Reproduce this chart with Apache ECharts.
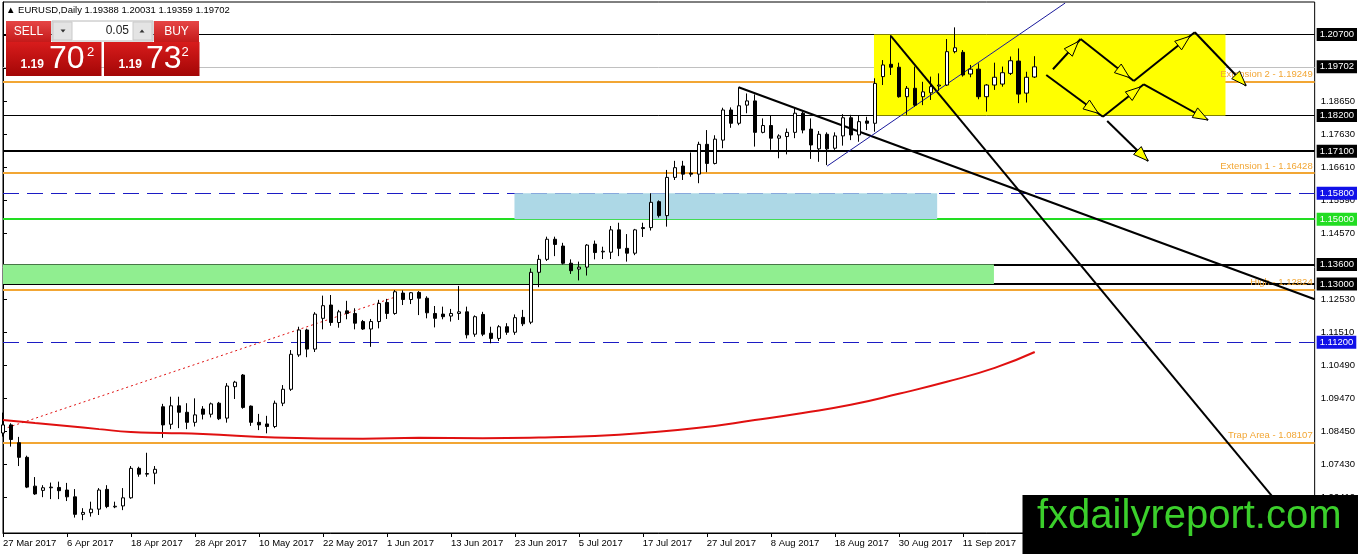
<!DOCTYPE html>
<html><head><meta charset="utf-8">
<script src="https://cdn.jsdelivr.net/npm/echarts@6/dist/echarts.min.js"></script>
<style>html,body{margin:0;padding:0;background:#fff}#c{width:1358px;height:554px}</style>
</head><body><div id="c"></div>
<script>
// ---------- data ----------
const tickLabels = ['27 Mar 2017','6 Apr 2017','18 Apr 2017','28 Apr 2017','10 May 2017','22 May 2017','1 Jun 2017','13 Jun 2017','23 Jun 2017','5 Jul 2017','17 Jul 2017','27 Jul 2017','8 Aug 2017','18 Aug 2017','30 Aug 2017','11 Sep 2017','21 Sep 2017'];
const opens  = [1.0840,1.0865,1.0810,1.0765,1.0676,1.0663,1.0671,1.0672,1.0664,1.0643,1.0589,1.0594,1.0605,1.0666,1.0612,1.0615,1.0640,1.0731,1.0713,1.0716,
1.0921,1.0867,1.0924,1.0904,1.0873,1.0914,1.0898,1.0932,1.0886,1.0983,1.1019,1.0923,1.0873,1.0868,1.0860,1.0932,1.0975,1.1081,1.1158,1.1099,
1.1194,1.1235,1.1181,1.1217,1.1209,1.1184,1.1161,1.1184,1.1243,1.1209,1.1272,1.1252,1.1274,1.1256,1.1209,1.1207,1.1201,1.1209,1.1214,1.1145,
1.1206,1.1148,1.1132,1.1168,1.1151,1.1197,1.1182,1.1336,1.1376,1.1438,1.1417,1.1364,1.1346,1.1352,1.1423,1.1399,1.1398,1.1467,1.1410,1.1395,
1.1474,1.1474,1.1554,1.1511,1.1629,1.1664,1.1642,1.1639,1.1731,1.1672,1.1744,1.1837,1.1796,1.1852,1.1865,1.1768,1.1789,1.1750,1.1755,1.1768,
1.1827,1.1778,1.1717,1.1762,1.1719,1.1757,1.1813,1.1760,1.1803,1.1796,1.1940,1.1978,1.1969,1.1878,1.1904,1.1878,1.1890,1.1911,1.1914,1.2017,
1.2015,1.1948,1.1963,1.1878,1.1914,1.1917,1.1950,1.1988,1.1889,1.19388];
const highs  = [1.0903,1.0870,1.0828,1.0770,1.0704,1.0679,1.0687,1.0690,1.0686,1.0667,1.0608,1.0628,1.0670,1.0679,1.0628,1.0670,1.0738,1.0736,1.0779,1.0738,
1.0930,1.0952,1.0952,1.0932,1.0947,1.0923,1.0934,1.0936,1.0994,1.1001,1.1022,1.0925,1.0899,1.0893,1.0940,1.0988,1.1096,1.1168,1.1162,1.1213,
1.1264,1.1266,1.1220,1.1248,1.1225,1.1189,1.1192,1.1251,1.1254,1.1281,1.1280,1.1275,1.1278,1.1262,1.1232,1.1230,1.1223,1.1294,1.1230,1.1203,
1.1214,1.1168,1.1173,1.1179,1.1206,1.1220,1.1348,1.1390,1.1446,1.1446,1.1427,1.1376,1.1369,1.1423,1.1434,1.1415,1.1479,1.1489,1.1454,1.1470,
1.1489,1.1580,1.1558,1.1652,1.1680,1.1680,1.1706,1.1739,1.1775,1.1759,1.1844,1.1845,1.1907,1.1888,1.1885,1.1811,1.1819,1.1762,1.1780,1.1842,
1.1832,1.1811,1.1772,1.1768,1.1768,1.1824,1.1822,1.1819,1.1816,1.1935,1.1991,1.2068,1.1983,1.1911,1.1971,1.1924,1.1940,1.1950,1.2056,1.2092,
1.2022,1.1976,1.1981,1.1917,1.1983,1.1971,1.2002,1.2027,1.1955,1.20031];
const lows   = [1.0829,1.0798,1.0738,1.0670,1.0649,1.0642,1.0636,1.0636,1.0630,1.0579,1.0571,1.0582,1.0587,1.0608,1.0608,1.0602,1.0637,1.0705,1.0705,1.0682,
1.0825,1.0852,1.0855,1.0852,1.0860,1.0882,1.0888,1.0880,1.0872,1.0945,1.0915,1.0862,1.0849,1.0839,1.0855,1.0923,1.0970,1.1075,1.1074,1.1090,
1.1160,1.1171,1.1165,1.1191,1.1160,1.1158,1.1106,1.1163,1.1192,1.1205,1.1235,1.1238,1.1204,1.1194,1.1166,1.1191,1.1184,1.1189,1.1132,1.1137,
1.1139,1.1117,1.1124,1.1143,1.1143,1.1170,1.1176,1.1290,1.1371,1.1386,1.1360,1.1331,1.1311,1.1326,1.1376,1.1377,1.1377,1.1386,1.1369,1.1389,
1.1445,1.1465,1.1505,1.1477,1.1621,1.1621,1.1631,1.1611,1.1645,1.1669,1.1719,1.1782,1.1790,1.1827,1.1724,1.1765,1.1714,1.1688,1.1700,1.1750,
1.1765,1.1686,1.1677,1.1667,1.1714,1.1727,1.1744,1.1739,1.1775,1.1770,1.1914,1.1945,1.1875,1.1822,1.1847,1.1852,1.1868,1.1896,1.1911,1.2012,
1.1940,1.1938,1.1870,1.1832,1.1899,1.1909,1.1945,1.1858,1.1860,1.19359];
const closes = [1.0865,1.0820,1.0765,1.0673,1.0652,1.0671,1.0673,1.0662,1.0643,1.0589,1.0595,1.0605,1.0664,1.0613,1.0614,1.0640,1.0731,1.0713,1.0715,1.0728,
1.0865,1.0924,1.0904,1.0873,1.0896,1.0898,1.0930,1.0884,1.0985,1.0997,1.0919,1.0873,1.0865,1.0860,1.0932,1.0975,1.1083,1.1158,1.1099,1.1207,
1.1233,1.1181,1.1214,1.1209,1.1179,1.1161,1.1184,1.1240,1.1209,1.1276,1.1252,1.1273,1.1256,1.1211,1.1194,1.1199,1.1209,1.1214,1.1143,1.1199,
1.1145,1.1132,1.1168,1.1151,1.1196,1.1177,1.1336,1.1376,1.1438,1.1422,1.1364,1.1341,1.1352,1.1420,1.1397,1.1401,1.1467,1.1410,1.1395,1.1467,
1.1471,1.1552,1.1511,1.1629,1.1659,1.1639,1.1639,1.1731,1.1672,1.1747,1.1837,1.1796,1.1850,1.1865,1.1768,1.1789,1.1750,1.1757,1.1768,1.1827,
1.1775,1.1729,1.1762,1.1717,1.1757,1.1813,1.1760,1.1801,1.1796,1.1919,1.1976,1.1969,1.1878,1.1904,1.1852,1.1893,1.1909,1.1914,1.2017,1.2029,
1.1945,1.1963,1.1878,1.1914,1.1938,1.1952,1.1989,1.1886,1.1938,1.19702];
const maIndex  = [0,4,8,12,16,20,25,34,45,52,60,67,74,80,87,94,100,106,112,118,124,129];
const maValues = [1.0880,1.0871,1.0862,1.0852,1.0843,1.0840,1.0837,1.0826,1.0822,1.0825,1.0824,1.0826,1.0831,1.0840,1.0856,1.0880,1.0902,1.0927,1.0961,1.0998,1.1041,1.1090];
const yTickValues = [1.06410,1.07430,1.08450,1.09470,1.10490,1.11510,1.12530,1.13550,1.14570,1.15590,1.16610,1.17630,1.18650,1.19670,1.20690];
const levelPrices = [1.20700,1.19702,1.18200,1.17100,1.15800,1.15000,1.13600,1.13000,1.11200];
const fiboNames  = ['Extension 2','Extension 1','High','Trap Area'];
const fiboPrices = [1.19249,1.16428,1.12824,1.08107];
const zones = [[108.9,1.20700,152.85,1.18200],[63.95,1.15800,116.8,1.15000],[0,1.13600,123.9,1.13000]];
const trendLines = [
  [[91.97,1.1907],[164,1.1253]],
  [[111.0,1.2066],[162.5,1.0531]],
  [[103.05,1.1664],[132.8,1.2167]],
  [[0,1.0852],[48.96,1.1259]]
];
const arrowPaths = [
  [[131.28,1.19626],[134.74,1.20561],[141.39,1.19265],[149.01,1.20768],[155.42,1.19120]],
  [[130.44,1.19450],[137.52,1.18163],[142.64,1.19163],[150.67,1.18061]],
  [[138.06,1.18030],[143.18,1.16796]]
];
const headerText = ['EURUSD,Daily','1.19388','1.20031','1.19359','1.19702'];
const lotSize = '0.05';
const sellQuote = ['1.19','70','2'];
const buyQuote  = ['1.19','73','2'];
const watermark = 'fxdailyreport.com';

// ---------- styles ----------
const FONT = 'Liberation Sans';
const ORANGE = '#f2a634';
const levelStyle = {
  '1.20700':{c:'#000',w:1,t:'solid',box:'#000'},
  '1.19702':{c:'#c0c0c0',w:1,t:'solid',box:'#000'},
  '1.18200':{c:'#000',w:1,t:'solid',box:'#000'},
  '1.17100':{c:'#000',w:2,t:'solid',box:'#000'},
  '1.15800':{c:'#1c1cc4',w:1,t:[16,8],box:'#1010e8'},
  '1.15000':{c:'#22dd22',w:2,t:'solid',box:'#22dd22'},
  '1.13600':{c:'#000',w:2,t:'solid',box:'#000'},
  '1.13000':{c:'#000',w:2,t:'solid',box:'#000'},
  '1.11200':{c:'#1c1cc4',w:1,t:[16,8],box:'#1010e8'}
};
const zoneFill = ['#ffff00','#add8e6','#90ee90'];
const trendStyle = [
  {color:'#000',width:2,type:'solid'},
  {color:'#000',width:2,type:'solid'},
  {color:'#1a1a9c',width:1,type:'solid'},
  {color:'#e01010',width:1,type:[2,3]}
];

const N = 165;
const cats = [];
for (let i = 0; i < N; i++) cats.push(i % 8 === 0 ? (tickLabels[i/8] || '') : '');
const candles = opens.map((o,i)=>[o, closes[i], lows[i], highs[i]]);
const maData = maIndex.map((x,i)=>[x, maValues[i]]);

const markLines = levelPrices.map(p=>{
  const s = levelStyle[p.toFixed(5)];
  return {yAxis:p, lineStyle:{color:s.c,width:s.w,type:s.t},
    label:{show:true,position:'end',formatter:p.toFixed(5),backgroundColor:s.box,color:'#fff',
      padding:[2,3,1,3],distance:2,fontSize:9.5,fontFamily:FONT}};
}).concat(fiboPrices.map((p,i)=>({yAxis:p, lineStyle:{color:ORANGE,width:2,type:'solid'},
    label:{show:true,position:'insideEndTop',formatter:fiboNames[i]+' - '+p.toFixed(5),color:ORANGE,
      distance:2,fontSize:9.5,fontFamily:FONT}})));

const arrowSegs = [];
arrowPaths.forEach(path=>{
  for (let k=0;k<path.length-1;k++){
    arrowSegs.push([path[k][0],path[k][1],path[k+1][0],path[k+1][1], k===path.length-2 ? 1 : 0.92]);
  }
});

const trendSeries = trendLines.map((seg,i)=>({
  type:'line', xAxisIndex:1, data:seg, symbol:'none', z:2, clip:true, silent:true,
  lineStyle:trendStyle[i]
}));

function grad(top,bottom){return {type:'linear',x:0,y:0,x2:0,y2:1,colorStops:[{offset:0,color:top},{offset:1,color:bottom}]};}

const graphics = [
  {type:'text', z:100, style:{x:6,y:10.5,text:'\u25B2 '+headerText.join(' '),fill:'#000',font:'9.5px '+FONT,verticalAlign:'middle'}},
  {type:'rect', z:100, shape:{x:6,y:21,width:45,height:21}, style:{fill:grad('#e64646','#c41a1a')}},
  {type:'text', z:101, style:{x:28.5,y:31.5,text:'SELL',fill:'#fff',font:'12px '+FONT,align:'center',verticalAlign:'middle'}},
  {type:'rect', z:100, shape:{x:52,y:21,width:101,height:20}, style:{fill:'#fff',stroke:'#b8b8b8',lineWidth:1}},
  {type:'rect', z:101, shape:{x:53,y:22,width:19,height:18}, style:{fill:'#e4e4e4',stroke:'#cacaca',lineWidth:1}},
  {type:'polygon', z:102, shape:{points:[[60.5,29.5],[65.5,29.5],[63,32.5]]}, style:{fill:'#333'}},
  {type:'rect', z:101, shape:{x:133,y:22,width:19,height:18}, style:{fill:'#e4e4e4',stroke:'#cacaca',lineWidth:1}},
  {type:'polygon', z:102, shape:{points:[[139.5,32.5],[144.5,32.5],[142,29.5]]}, style:{fill:'#333'}},
  {type:'text', z:101, style:{x:129,y:31,text:lotSize,fill:'#222',font:'12px '+FONT,align:'right',verticalAlign:'middle'}},
  {type:'rect', z:100, shape:{x:154,y:21,width:45,height:21}, style:{fill:grad('#e64646','#c41a1a')}},
  {type:'text', z:101, style:{x:176.5,y:31.5,text:'BUY',fill:'#fff',font:'12px '+FONT,align:'center',verticalAlign:'middle'}},
  {type:'rect', z:100, shape:{x:6,y:42,width:95.5,height:34}, style:{fill:grad('#d81c1c','#a30606')}},
  {type:'rect', z:100, shape:{x:104,y:42,width:95.5,height:34}, style:{fill:grad('#d81c1c','#a30606')}},
  {type:'text', z:101, style:{x:20.5,y:64.5,text:sellQuote[0],fill:'#fff',font:'bold 12px '+FONT,verticalAlign:'middle'}},
  {type:'text', z:101, style:{x:49,y:59,text:sellQuote[1],fill:'#fff',font:'32px '+FONT,verticalAlign:'middle'}},
  {type:'text', z:101, style:{x:87,y:52,text:sellQuote[2],fill:'#fff',font:'13px '+FONT,verticalAlign:'middle'}},
  {type:'text', z:101, style:{x:118.5,y:64.5,text:buyQuote[0],fill:'#fff',font:'bold 12px '+FONT,verticalAlign:'middle'}},
  {type:'text', z:101, style:{x:146,y:59,text:buyQuote[1],fill:'#fff',font:'32px '+FONT,verticalAlign:'middle'}},
  {type:'text', z:101, style:{x:181.5,y:52,text:buyQuote[2],fill:'#fff',font:'13px '+FONT,verticalAlign:'middle'}},
  {type:'rect', z:100, shape:{x:1022.5,y:495,width:336,height:59}, style:{fill:'#000'}},
  {type:'text', z:101, style:{x:1037,y:517,text:watermark,fill:'#3bcf2b',font:'40px '+FONT,verticalAlign:'middle'}}
];

const chart = echarts.init(document.getElementById('c'));
chart.setOption({
  animation:false,
  backgroundColor:'#fff',
  textStyle:{fontFamily:FONT},
  grid:{left:3,right:42,top:2,bottom:21,show:true,borderColor:'#000',borderWidth:1,backgroundColor:'#fff'},
  xAxis:[
    {type:'category',data:cats,boundaryGap:false,
     axisLine:{show:true,lineStyle:{color:'#000',width:1}},
     axisTick:{show:true,interval:7,length:4,lineStyle:{color:'#000'}},
     axisLabel:{interval:7,align:'left',margin:5,fontSize:9.5,color:'#000',fontFamily:FONT},
     splitLine:{show:false}},
    {type:'value',min:0,max:N-1,show:false}
  ],
  yAxis:{type:'value',position:'right',min:1.05314,max:1.21703,
    axisLine:{show:true,lineStyle:{color:'#000'}},
    axisTick:{show:true,customValues:yTickValues,length:4,lineStyle:{color:'#000'}},
    axisLabel:{customValues:yTickValues,formatter:v=>v.toFixed(5),fontSize:9.5,color:'#000',margin:6,fontFamily:FONT},
    splitLine:{show:false}},
  graphic:graphics,
  series:[
    {type:'custom', xAxisIndex:1, z:1, silent:true, data:zones, encode:{x:[0,2],y:[1,3]},
     renderItem:(params,api)=>{
       const a=api.coord([api.value(0),api.value(1)]), b=api.coord([api.value(2),api.value(3)]);
       return {type:'rect',shape:{x:a[0],y:a[1],width:b[0]-a[0],height:b[1]-a[1]},style:{fill:zoneFill[params.dataIndex]}};
     },
     markLine:{silent:true,symbol:['none','none'],precision:5,z:1,animation:false,data:markLines}
    },
    ...trendSeries,
    {type:'candlestick', xAxisIndex:0, z:3, data:candles, barWidth:4, silent:true,
     itemStyle:{color:'#fff',color0:'#000',borderColor:'#000',borderColor0:'#000',borderWidth:1}},
    {type:'line', xAxisIndex:1, z:4, data:maData, symbol:'none', smooth:true, silent:true,
     lineStyle:{color:'#e01010',width:2}},
    {type:'custom', xAxisIndex:1, z:5, silent:true, data:arrowSegs, encode:{x:[0,2],y:[1,3]},
     renderItem:(params,api)=>{
       const a=api.coord([api.value(0),api.value(1)]), b=api.coord([api.value(2),api.value(3)]), t=api.value(4);
       const dx=b[0]-a[0], dy=b[1]-a[1], L=Math.hypot(dx,dy), ux=dx/L, uy=dy/L;
       const tip=[a[0]+dx*t,a[1]+dy*t], hl=15, hw=5.5;
       const base=[tip[0]-ux*hl,tip[1]-uy*hl];
       const pts=[tip,[base[0]-uy*hw,base[1]+ux*hw],[base[0]+uy*hw,base[1]-ux*hw]];
       return {type:'group',children:[
         {type:'line',shape:{x1:a[0],y1:a[1],x2:b[0],y2:b[1]},style:{stroke:'#000',lineWidth:2}},
         {type:'polygon',shape:{points:pts},style:{fill:'#ffff00',stroke:'#000',lineWidth:1}}
       ]};
     }}
  ]
});
</script></body></html>
